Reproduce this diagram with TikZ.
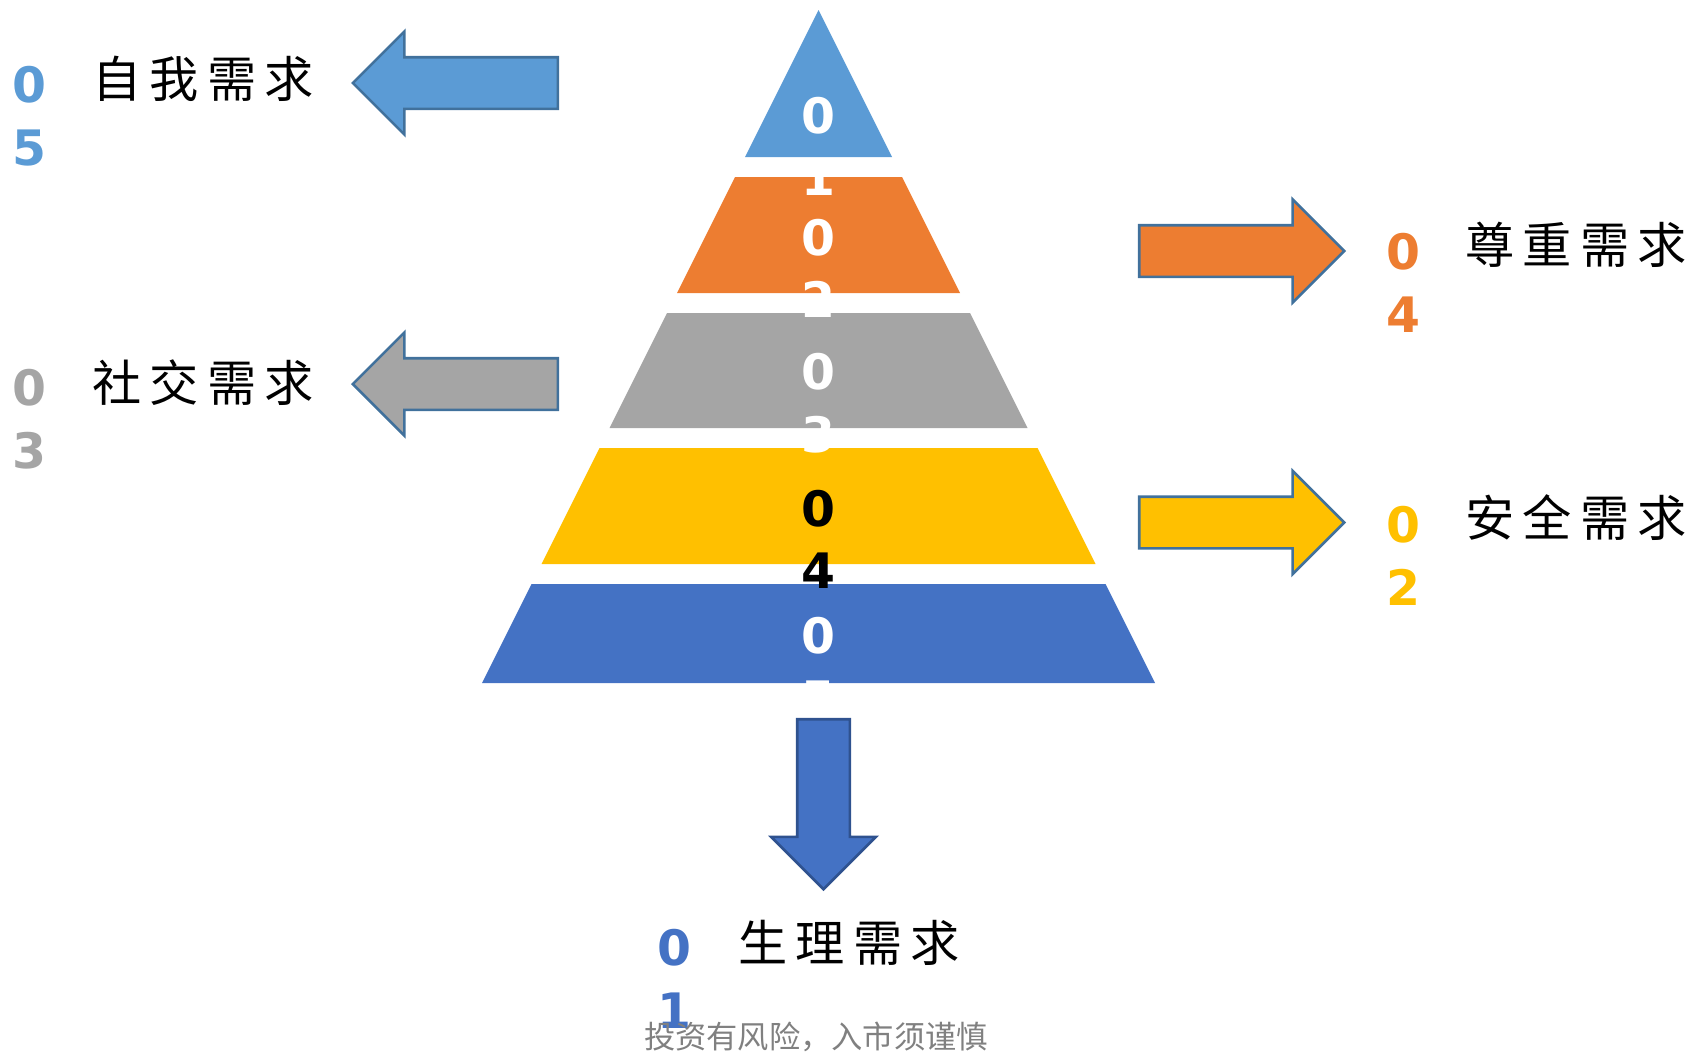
\documentclass[tikz,border=0pt]{standalone}
\usepackage{fontspec}
\usetikzlibrary{shapes.arrows}

\newfontfamily\numfont{DejaVu Sans}
\newfontfamily\needfont[LetterSpace=17]{Noto Sans CJK SC}
\newfontfamily\notefont{Noto Sans CJK SC}

\definecolor{lev5}{HTML}{5B9BD5}
\definecolor{lev4}{HTML}{ED7D31}
\definecolor{lev3}{HTML}{A5A5A5}
\definecolor{lev2}{HTML}{FFC000}
\definecolor{lev1}{HTML}{4472C4}
\definecolor{edgeblue}{HTML}{41719C}
\definecolor{edgedark}{HTML}{2F528F}

\begin{document}
\begin{tikzpicture}[x=0.02cm, y=-0.02cm]
    \tikzset{
      num/.style={font=\numfont\bfseries\fontsize{27.8}{35.7}\selectfont,
                  align=center, inner sep=0},
      need/.style={font=\needfont\fontsize{28}{32}\selectfont,
                   anchor=west, inner sep=0},
      blockarrow/.style={single arrow, draw=edgeblue, line width=1.5pt,
                         minimum height=4.1cm, inner sep=0.49cm,
                         single arrow head extend=0.515cm, anchor=tip}
    }
    \useasboundingbox (0,0) rectangle (1693,1052);

    % Piramide
    \fill[lev5] (818.5,10) -- (892,157) -- (745,157) -- cycle;
    \fill[lev4] (735,177) -- (902,177) -- (960,293) -- (677,293) -- cycle;
    \fill[lev3] (667,313) -- (970,313) -- (1027.5,428) -- (609.5,428) -- cycle;
    \fill[lev2] (599.5,448) -- (1037.5,448) -- (1095.5,564) -- (541.5,564) -- cycle;
    \fill[lev1] (531.5,584) -- (1105.5,584) -- (1155,683) -- (482,683) -- cycle;

    \node[num, white] (p1) at (818.5,146.5) {0\\1};
    \node[num, white] (p2) at (818.5,268.5) {0\\2};
    \node[num, white] (p3) at (818.5,403.5) {0\\3};
    \node[num, black] (p4) at (818.5,539.5) {0\\4};
    \node[num, white] (p5) at (818.5,667.5) {0\\5};

    % Flechas
    \node[blockarrow, fill=lev5, shape border rotate=180] (arr5) at (351,83) {};
    \node[blockarrow, fill=lev3, shape border rotate=180] (arr3) at (351,384) {};
    \node[blockarrow, fill=lev4] (arr4) at (1346,251) {};
    \node[blockarrow, fill=lev2] (arr2) at (1346,522.5) {};
    \node[blockarrow, fill=lev1, draw=edgedark, shape border rotate=270,
          minimum height=3.4cm, inner sep=0.5cm,
          single arrow head extend=0.52cm] (arr1) at (823.5,891) {};

    % Etiquetas
    \node[num, lev5] (n5) at (29,116) {0\\5};
    \node[need] (t5) at (92,79) {自我需求};
    \node[num, lev3] (n3) at (29,419.5) {0\\3};
    \node[need] (t3) at (92,383) {社交需求};
    \node[num, lev4] (n4) at (1403,283) {0\\4};
    \node[need] (t4) at (1465,245) {尊重需求};
    \node[num, lev2] (n2) at (1403,556) {0\\2};
    \node[need] (t2) at (1465,518) {安全需求};
    \node[num, lev1] (n1) at (674,979) {0\\1};
    \node[need] (t1) at (738,943) {生理需求};

    \node[font=\notefont\fontsize{17.8}{20}\selectfont, text=gray, inner sep=0]
      (note) at (816,1037) {投资有风险，入市须谨慎};
  \end{tikzpicture}
\end{document}
